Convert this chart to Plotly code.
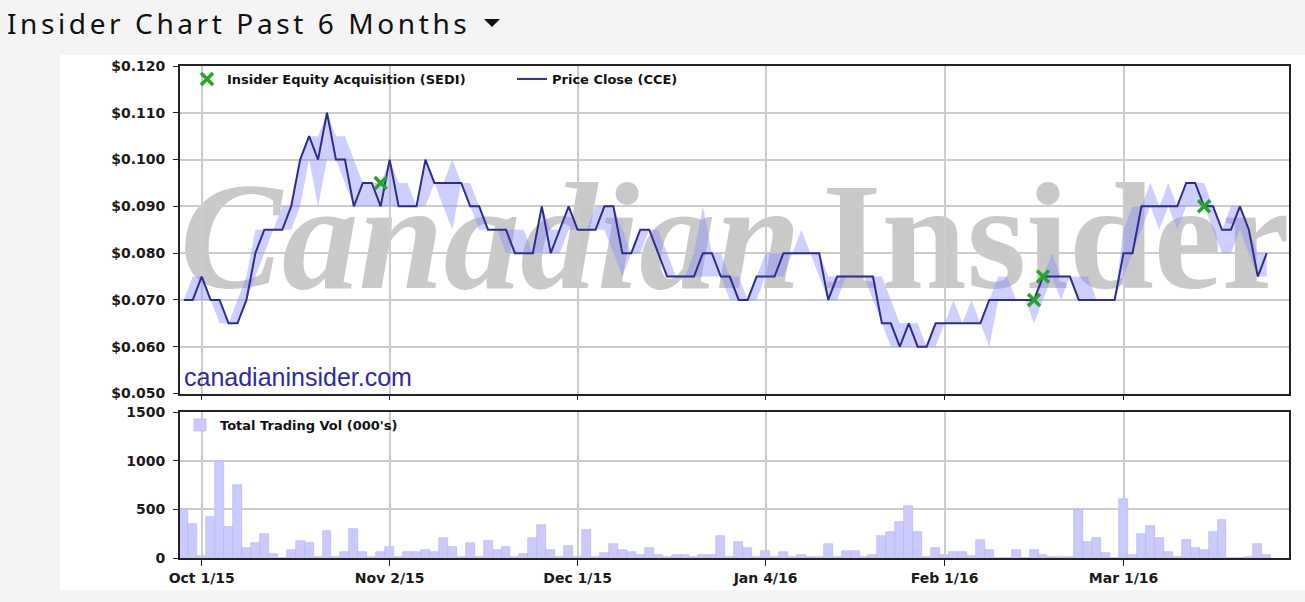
import plotly.graph_objects as go
import pandas as pd

# ---------------- data ----------------
market_holidays = ["2015-10-12", "2015-12-25", "2015-12-28", "2016-01-01", "2016-02-15"]
dates = [d.strftime("%Y-%m-%d") for d in
         pd.bdate_range("2015-09-29", "2016-03-23", freq="C", holidays=market_holidays)]

price_close = [
    0.070, 0.070, 0.075, 0.070, 0.070, 0.065, 0.065, 0.070, 0.080, 0.085,
    0.085, 0.085, 0.090, 0.100, 0.105, 0.100, 0.110, 0.100, 0.100, 0.090,
    0.095, 0.095, 0.090, 0.100, 0.090, 0.090, 0.090, 0.100, 0.095, 0.095,
    0.095, 0.095, 0.090, 0.090, 0.085, 0.085, 0.085, 0.080, 0.080, 0.080,
    0.090, 0.080, 0.085, 0.090, 0.085, 0.085, 0.085, 0.090, 0.090, 0.080,
    0.080, 0.085, 0.085, 0.080, 0.075, 0.075, 0.075, 0.075, 0.080, 0.080,
    0.075, 0.075, 0.070, 0.070, 0.075, 0.075, 0.075, 0.080, 0.080, 0.080,
    0.080, 0.080, 0.070, 0.075, 0.075, 0.075, 0.075, 0.075, 0.065, 0.065,
    0.060, 0.065, 0.060, 0.060, 0.065, 0.065, 0.065, 0.065, 0.065, 0.065,
    0.070, 0.070, 0.070, 0.070, 0.070, 0.070, 0.075, 0.075, 0.075, 0.075,
    0.070, 0.070, 0.070, 0.070, 0.070, 0.080, 0.080, 0.090, 0.090, 0.090,
    0.090, 0.090, 0.095, 0.095, 0.090, 0.090, 0.085, 0.085, 0.090, 0.085,
    0.075, 0.080,
]
price_high = [
    0.070, 0.075, 0.075, 0.070, 0.070, 0.065, 0.070, 0.075, 0.085, 0.085,
    0.085, 0.090, 0.090, 0.100, 0.105, 0.105, 0.110, 0.105, 0.105, 0.100,
    0.095, 0.095, 0.095, 0.100, 0.095, 0.095, 0.090, 0.100, 0.095, 0.095,
    0.100, 0.095, 0.095, 0.090, 0.085, 0.085, 0.085, 0.085, 0.085, 0.080,
    0.090, 0.085, 0.085, 0.090, 0.085, 0.085, 0.090, 0.090, 0.090, 0.085,
    0.080, 0.085, 0.085, 0.085, 0.080, 0.075, 0.075, 0.080, 0.090, 0.080,
    0.080, 0.075, 0.075, 0.070, 0.075, 0.080, 0.080, 0.080, 0.080, 0.085,
    0.080, 0.080, 0.075, 0.075, 0.075, 0.075, 0.075, 0.075, 0.075, 0.070,
    0.065, 0.065, 0.065, 0.060, 0.065, 0.065, 0.070, 0.065, 0.070, 0.065,
    0.070, 0.075, 0.075, 0.070, 0.070, 0.070, 0.075, 0.080, 0.075, 0.075,
    0.075, 0.075, 0.070, 0.070, 0.070, 0.085, 0.090, 0.090, 0.095, 0.090,
    0.095, 0.090, 0.095, 0.095, 0.095, 0.090, 0.085, 0.090, 0.090, 0.085,
    0.080, 0.080,
]
price_low = [
    0.070, 0.070, 0.070, 0.070, 0.065, 0.065, 0.065, 0.070, 0.075, 0.080,
    0.085, 0.085, 0.085, 0.090, 0.100, 0.090, 0.100, 0.100, 0.095, 0.090,
    0.090, 0.090, 0.090, 0.090, 0.090, 0.090, 0.090, 0.090, 0.095, 0.090,
    0.085, 0.095, 0.090, 0.085, 0.085, 0.085, 0.080, 0.080, 0.080, 0.080,
    0.080, 0.080, 0.080, 0.085, 0.085, 0.085, 0.085, 0.085, 0.080, 0.075,
    0.080, 0.080, 0.085, 0.080, 0.075, 0.075, 0.075, 0.075, 0.075, 0.075,
    0.075, 0.070, 0.070, 0.070, 0.070, 0.075, 0.075, 0.075, 0.080, 0.080,
    0.080, 0.075, 0.070, 0.070, 0.075, 0.075, 0.075, 0.070, 0.065, 0.060,
    0.060, 0.060, 0.060, 0.060, 0.060, 0.065, 0.065, 0.065, 0.065, 0.065,
    0.060, 0.070, 0.070, 0.070, 0.070, 0.065, 0.070, 0.075, 0.070, 0.075,
    0.070, 0.070, 0.070, 0.070, 0.070, 0.075, 0.080, 0.085, 0.090, 0.085,
    0.090, 0.085, 0.090, 0.090, 0.090, 0.085, 0.080, 0.080, 0.085, 0.080,
    0.075, 0.075,
]
volume = [
    500, 350, 20, 420, 1000, 315, 750, 105, 150, 250,
    40, 0, 85, 170, 150, 15, 275, 15, 65, 295,
    65, 10, 65, 110, 10, 65, 65, 80, 65, 210,
    110, 10, 150, 10, 170, 85, 110, 15, 40, 210,
    335, 80, 10, 120, 10, 290, 15, 50, 140, 80,
    60, 35, 105, 35, 10, 35, 35, 10, 35, 35,
    230, 10, 165, 105, 10, 75, 10, 60, 10, 35,
    10, 10, 140, 10, 75, 75, 10, 35, 230, 270,
    375, 535, 270, 10, 105, 35, 60, 60, 20, 185,
    80, 5, 0, 80, 5, 80, 35, 10, 10, 10,
    490, 165, 210, 50, 5, 605, 35, 245, 330, 210,
    60, 10, 185, 105, 80, 270, 395, 0, 5, 10,
    140, 35,
]
insider_dates = ["2015-10-30", "2016-02-16", "2016-02-17", "2016-03-14"]
insider_prices = [0.095, 0.070, 0.075, 0.090]

tick_dates = ["2015-10-01", "2015-11-02", "2015-12-01", "2016-01-04", "2016-02-01", "2016-03-01"]
tick_labels = ["Oct 1/15", "Nov 2/15", "Dec 1/15", "Jan 4/16", "Feb 1/16", "Mar 1/16"]
price_ticks = [0.05, 0.06, 0.07, 0.08, 0.09, 0.10, 0.11, 0.12]
volume_ticks = [0, 500, 1000, 1500]

# ---------------- geometry helpers ----------------
W, H = 1305, 602
L, R, T, B = 180, 16, 66, 44
PW, PH = W - L - R, H - T - B
DAY_PX = 8.95          # width of one trading day on the category axis
X0_PX = 183.8          # pixel centre of the first category


def px_x(p):
    return (p - L) / PW


def px_y(p):
    return (H - B - p) / PH


def px_cat(p):
    return (p - X0_PX) / DAY_PX


def px_price(p):
    return 0.05 + (393.5 - p) / (393.5 - 66) * 0.07


TOP_DOM = [px_y(393.5), 1.0]
BOT_DOM = [0.0, px_y(412)]
XRANGE = [px_cat(180), px_cat(1289)]

NAVY = "#2d2d8c"
GREEN = "#22a822"
GRID = "#cccccc"
TICKFONT = dict(family="DejaVu Sans", size=14, color="#1a1a1a", weight="bold")
LEGFONT = dict(family="DejaVu Sans", size=13, color="#111", weight="bold")

fig = go.Figure()

# high/low band
fig.add_trace(go.Scatter(x=dates, y=price_low, mode="lines", line=dict(width=0),
                         showlegend=False, hoverinfo="skip", xaxis="x", yaxis="y"))
fig.add_trace(go.Scatter(x=dates, y=price_high, mode="lines", line=dict(width=0),
                         fill="tonexty", fillcolor="rgba(140,140,255,0.42)",
                         showlegend=False, hoverinfo="skip", xaxis="x", yaxis="y"))
# close
fig.add_trace(go.Scatter(x=dates, y=price_close, mode="lines",
                         line=dict(color=NAVY, width=2),
                         name="Price Close (CCE)", legend="legend", legendrank=2,
                         xaxis="x", yaxis="y"))
# insider buys
fig.add_trace(go.Scatter(x=insider_dates, y=insider_prices, mode="markers",
                         marker=dict(symbol="x-thin", size=12, color=GREEN,
                                     line=dict(width=3.5, color=GREEN)),
                         name="Insider Equity Acquisition (SEDI)", legend="legend",
                         legendrank=1, xaxis="x", yaxis="y"))
# volume
fig.add_trace(go.Bar(x=dates, y=volume, name="Total Trading Vol (000's)",
                     marker=dict(color="#cacafc", line=dict(color="#b4b4f0", width=0.6)),
                     legend="legend2", xaxis="x2", yaxis="y2"))

axis_common = dict(showline=True, linecolor="#222222", linewidth=2, mirror=True,
                   showgrid=True, gridcolor=GRID, gridwidth=1.5, zeroline=False,
                   ticks="outside", tickcolor="#222222", tickfont=TICKFONT)

fig.update_layout(
    width=W, height=H,
    margin=dict(l=L, r=R, t=T, b=B),
    paper_bgcolor="#f4f4f4", plot_bgcolor="white",
    bargap=0,
    xaxis=dict(domain=[0, 1], anchor="y", type="category", range=XRANGE,
               tickvals=tick_dates, ticktext=tick_labels, showticklabels=False,
               ticklen=4, **axis_common),
    yaxis=dict(domain=TOP_DOM, anchor="x", range=[0.05, 0.12], tickvals=price_ticks,
               tickformat="$.3f", ticklen=5, ticklabelstandoff=5, **axis_common),
    xaxis2=dict(domain=[0, 1], anchor="y2", type="category", range=XRANGE,
                tickvals=tick_dates, ticktext=tick_labels, ticklen=6, **axis_common),
    yaxis2=dict(domain=BOT_DOM, anchor="x2", range=[0, 1500], tickvals=volume_ticks,
                ticklen=5, ticklabelstandoff=5, **axis_common),
    legend=dict(orientation="h", x=px_x(187), xanchor="left", y=px_y(64), yanchor="top",
                bgcolor="rgba(0,0,0,0)", font=LEGFONT,
                entrywidth=280, entrywidthmode="pixels", traceorder="normal"),
    legend2=dict(orientation="h", x=px_x(180), xanchor="left", y=px_y(410), yanchor="top",
                 bgcolor="rgba(0,0,0,0)", font=LEGFONT),
    showlegend=True,
)

WM_FONT = dict(family="Liberation Serif", size=153, color="#c9c9c9", weight="bold")
shapes = [
    # white panel
    dict(type="rect", xref="paper", yref="paper", x0=px_x(60), x1=px_x(1310),
         y0=px_y(590), y1=px_y(55), fillcolor="white", line=dict(width=0), layer="below"),
    # dropdown caret next to the title
    dict(type="path", xref="paper", yref="paper",
         path=f"M {px_x(484)},{px_y(19)} L {px_x(500)},{px_y(19)} L {px_x(492)},{px_y(27)} Z",
         fillcolor="#111", line=dict(width=0)),
    # watermark words
    dict(type="rect", xref="x", yref="y", x0=px_cat(174), x1=px_cat(815),
         y0=px_price(307), y1=px_price(130),
         fillcolor="rgba(0,0,0,0)", line=dict(width=0), layer="below",
         label=dict(text="<i>Canadian</i>", textposition="bottom left", font=WM_FONT)),
    dict(type="rect", xref="x", yref="y", x0=px_cat(816), x1=px_cat(1288),
         y0=px_price(307), y1=px_price(130),
         fillcolor="rgba(0,0,0,0)", line=dict(width=0), layer="below",
         label=dict(text="Insider", textposition="bottom left", font=WM_FONT)),
]
fig.update_layout(shapes=shapes)

annotations = [
    dict(text='<span style="letter-spacing:3.6px">Insider Chart Past 6 Months</span>',
         xref="paper", yref="paper",
         x=px_x(5), y=px_y(23), xanchor="left", yanchor="middle", showarrow=False,
         font=dict(family="Noto Sans", size=28, color="#111")),
    dict(text="canadianinsider.com", xref="x domain", yref="y domain",
         x=(182 - L) / PW, y=(393.5 - 377) / (393.5 - 66), xanchor="left", yanchor="middle",
         showarrow=False, font=dict(family="Liberation Sans", size=25, color="#2b2ba6")),
]
fig.update_layout(annotations=annotations)

fig.write_html("out.html", config={"displayModeBar": False},
               post_script="document.body.style.margin='0px';")
